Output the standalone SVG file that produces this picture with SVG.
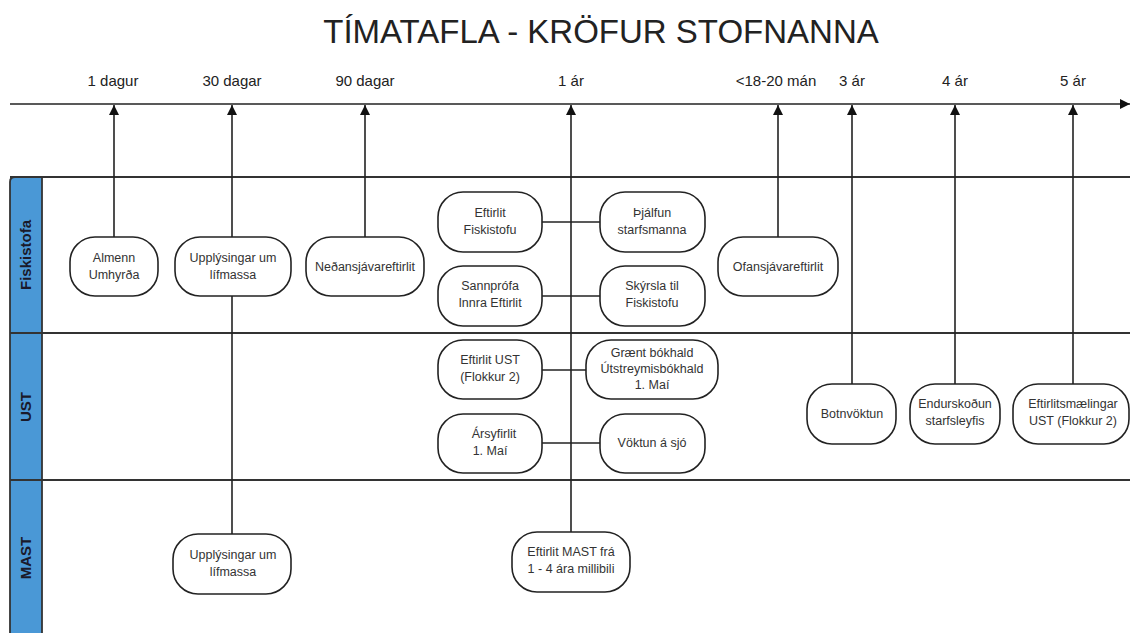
<svg xmlns="http://www.w3.org/2000/svg" width="1130" height="633" viewBox="0 0 1130 633">
<style>
.title{font-family:"Liberation Sans",Arial,sans-serif;font-size:33px;fill:#222;text-anchor:middle}
.tl{font-family:"Liberation Sans",Arial,sans-serif;font-size:15px;fill:#222;text-anchor:middle}
.lane{font-family:"Liberation Sans",Arial,sans-serif;font-size:15px;font-weight:bold;fill:#1a1a2a;text-anchor:middle}
.nt{font-family:"Liberation Sans",Arial,sans-serif;font-size:12.5px;fill:#333;text-anchor:middle}
.box{fill:#fff;stroke:#222;stroke-width:1.6}
.ln{stroke:#222;stroke-width:1.6;fill:none}
.lg{stroke:#333;stroke-width:1.8;fill:none}
</style>
<defs>
<marker id="ah" viewBox="0 0 10 10" refX="10" refY="5" markerWidth="10" markerHeight="10" markerUnits="userSpaceOnUse" orient="auto">
<path d="M0,0 L10,5 L0,10 Z" fill="#111"/>
</marker>
</defs>
<rect width="1130" height="633" fill="#fff"/>
<text class="title" x="601" y="43">TÍMATAFLA - KRÖFUR STOFNANNA</text>

<g id="timeline">
<line class="ln" x1="10" y1="104" x2="1130" y2="104" marker-end="url(#ah)"/>
<text class="tl" x="113" y="86">1 dagur</text>
<text class="tl" x="232" y="86">30 dagar</text>
<text class="tl" x="365" y="86">90 dagar</text>
<text class="tl" x="571" y="86">1 ár</text>
<text class="tl" x="776" y="86">&lt;18-20 mán</text>
<text class="tl" x="852" y="86">3 ár</text>
<text class="tl" x="955" y="86">4 ár</text>
<text class="tl" x="1073" y="86">5 ár</text>
</g>

<g id="lanes">
<path d="M10,633 L10,182 Q10,177 15,177 L42,177 L42,633 Z" fill="#4A98D6"/>
<line class="lg" x1="10" y1="177" x2="1130" y2="177"/>
<line class="lg" x1="10" y1="333" x2="1130" y2="333"/>
<line class="lg" x1="10" y1="480" x2="1130" y2="480"/>
<path class="lg" d="M10,633 L10,182 Q10,177 15,177"/>
<line class="lg" x1="42" y1="177" x2="42" y2="633"/>
<text class="lane" transform="translate(31,255) rotate(-90)">Fiskistofa</text>
<text class="lane" transform="translate(31,407) rotate(-90)">UST</text>
<text class="lane" transform="translate(31,558) rotate(-90)">MAST</text>
</g>

<g id="connectors">
<line class="ln" x1="114" y1="237" x2="114" y2="105" marker-end="url(#ah)"/>
<line class="ln" x1="232" y1="237" x2="232" y2="105" marker-end="url(#ah)"/>
<line class="ln" x1="232" y1="296" x2="232" y2="534"/>
<line class="ln" x1="365" y1="237" x2="365" y2="105" marker-end="url(#ah)"/>
<line class="ln" x1="571" y1="532" x2="571" y2="105" marker-end="url(#ah)"/>
<line class="ln" x1="778" y1="237" x2="778" y2="105" marker-end="url(#ah)"/>
<line class="ln" x1="852" y1="384" x2="852" y2="105" marker-end="url(#ah)"/>
<line class="ln" x1="955" y1="384" x2="955" y2="105" marker-end="url(#ah)"/>
<line class="ln" x1="1073" y1="384" x2="1073" y2="105" marker-end="url(#ah)"/>
<line class="ln" x1="542" y1="222" x2="600" y2="222"/>
<line class="ln" x1="542" y1="296" x2="600" y2="296"/>
<line class="ln" x1="542" y1="370" x2="586" y2="370"/>
<line class="ln" x1="542" y1="443" x2="600" y2="443"/>
</g>

<g id="n-almenn"><rect class="box" x="70" y="237" width="88" height="59" rx="25"/>
<text class="nt" x="114" y="262">Almenn</text><text class="nt" x="114" y="279">Umhyrða</text></g>
<g id="n-upp1"><rect class="box" x="175" y="237" width="116" height="59" rx="25"/>
<text class="nt" x="233" y="262">Upplýsingar um</text><text class="nt" x="233" y="279">lífmassa</text></g>
<g id="n-nedan"><rect class="box" x="306" y="237" width="118" height="59" rx="25"/>
<text class="nt" x="365" y="271">Neðansjávareftirlit</text></g>
<g id="n-eftfisk"><rect class="box" x="438" y="192" width="104" height="60" rx="25"/>
<text class="nt" x="490" y="217">Eftirlit</text><text class="nt" x="490" y="234">Fiskistofu</text></g>
<g id="n-thjalf"><rect class="box" x="600" y="192" width="105" height="60" rx="25"/>
<text class="nt" x="652" y="217">Þjálfun</text><text class="nt" x="652" y="234">starfsmanna</text></g>
<g id="n-sann"><rect class="box" x="438" y="266" width="104" height="60" rx="25"/>
<text class="nt" x="490" y="290">Sannprófa</text><text class="nt" x="490" y="307">Innra Eftirlit</text></g>
<g id="n-skyrsla"><rect class="box" x="600" y="266" width="105" height="60" rx="25"/>
<text class="nt" x="652" y="290">Skýrsla til</text><text class="nt" x="652" y="307">Fiskistofu</text></g>
<g id="n-ofan"><rect class="box" x="718" y="237" width="120" height="59" rx="25"/>
<text class="nt" x="778" y="271">Ofansjávareftirlit</text></g>

<g id="n-eftust"><rect class="box" x="438" y="340" width="104" height="59" rx="25"/>
<text class="nt" x="490" y="364">Eftirlit UST</text><text class="nt" x="490" y="381">(Flokkur 2)</text></g>
<g id="n-graent"><rect class="box" x="586" y="340" width="132" height="59" rx="25"/>
<text class="nt" x="652" y="357">Grænt bókhald</text><text class="nt" x="652" y="373">Útstreymisbókhald</text><text class="nt" x="652" y="389">1. Maí</text></g>
<g id="n-arsy"><rect class="box" x="438" y="414" width="104" height="59" rx="25"/>
<text class="nt" x="494" y="438">Ársyfirlit</text><text class="nt" x="490" y="455">1. Maí</text></g>
<g id="n-voktun"><rect class="box" x="600" y="414" width="105" height="59" rx="25"/>
<text class="nt" x="652" y="447">Vöktun á sjó</text></g>
<g id="n-botn"><rect class="box" x="807" y="384" width="89" height="60" rx="25"/>
<text class="nt" x="852" y="418">Botnvöktun</text></g>
<g id="n-endur"><rect class="box" x="910" y="384" width="90" height="60" rx="25"/>
<text class="nt" x="955" y="408">Endurskoðun</text><text class="nt" x="955" y="425">starfsleyfis</text></g>
<g id="n-eftmael"><rect class="box" x="1013" y="384" width="116" height="60" rx="25"/>
<text class="nt" x="1073" y="408">Eftirlitsmælingar</text><text class="nt" x="1073" y="425">UST (Flokkur 2)</text></g>

<g id="n-upp2"><rect class="box" x="173" y="534" width="118" height="60" rx="25"/>
<text class="nt" x="233" y="559">Upplýsingar um</text><text class="nt" x="233" y="576">lífmassa</text></g>
<g id="n-eftmast"><rect class="box" x="512" y="532" width="118" height="60" rx="25"/>
<text class="nt" x="571" y="556">Eftirlit MAST frá</text><text class="nt" x="571" y="573">1 - 4 ára millibili</text></g>
</svg>
